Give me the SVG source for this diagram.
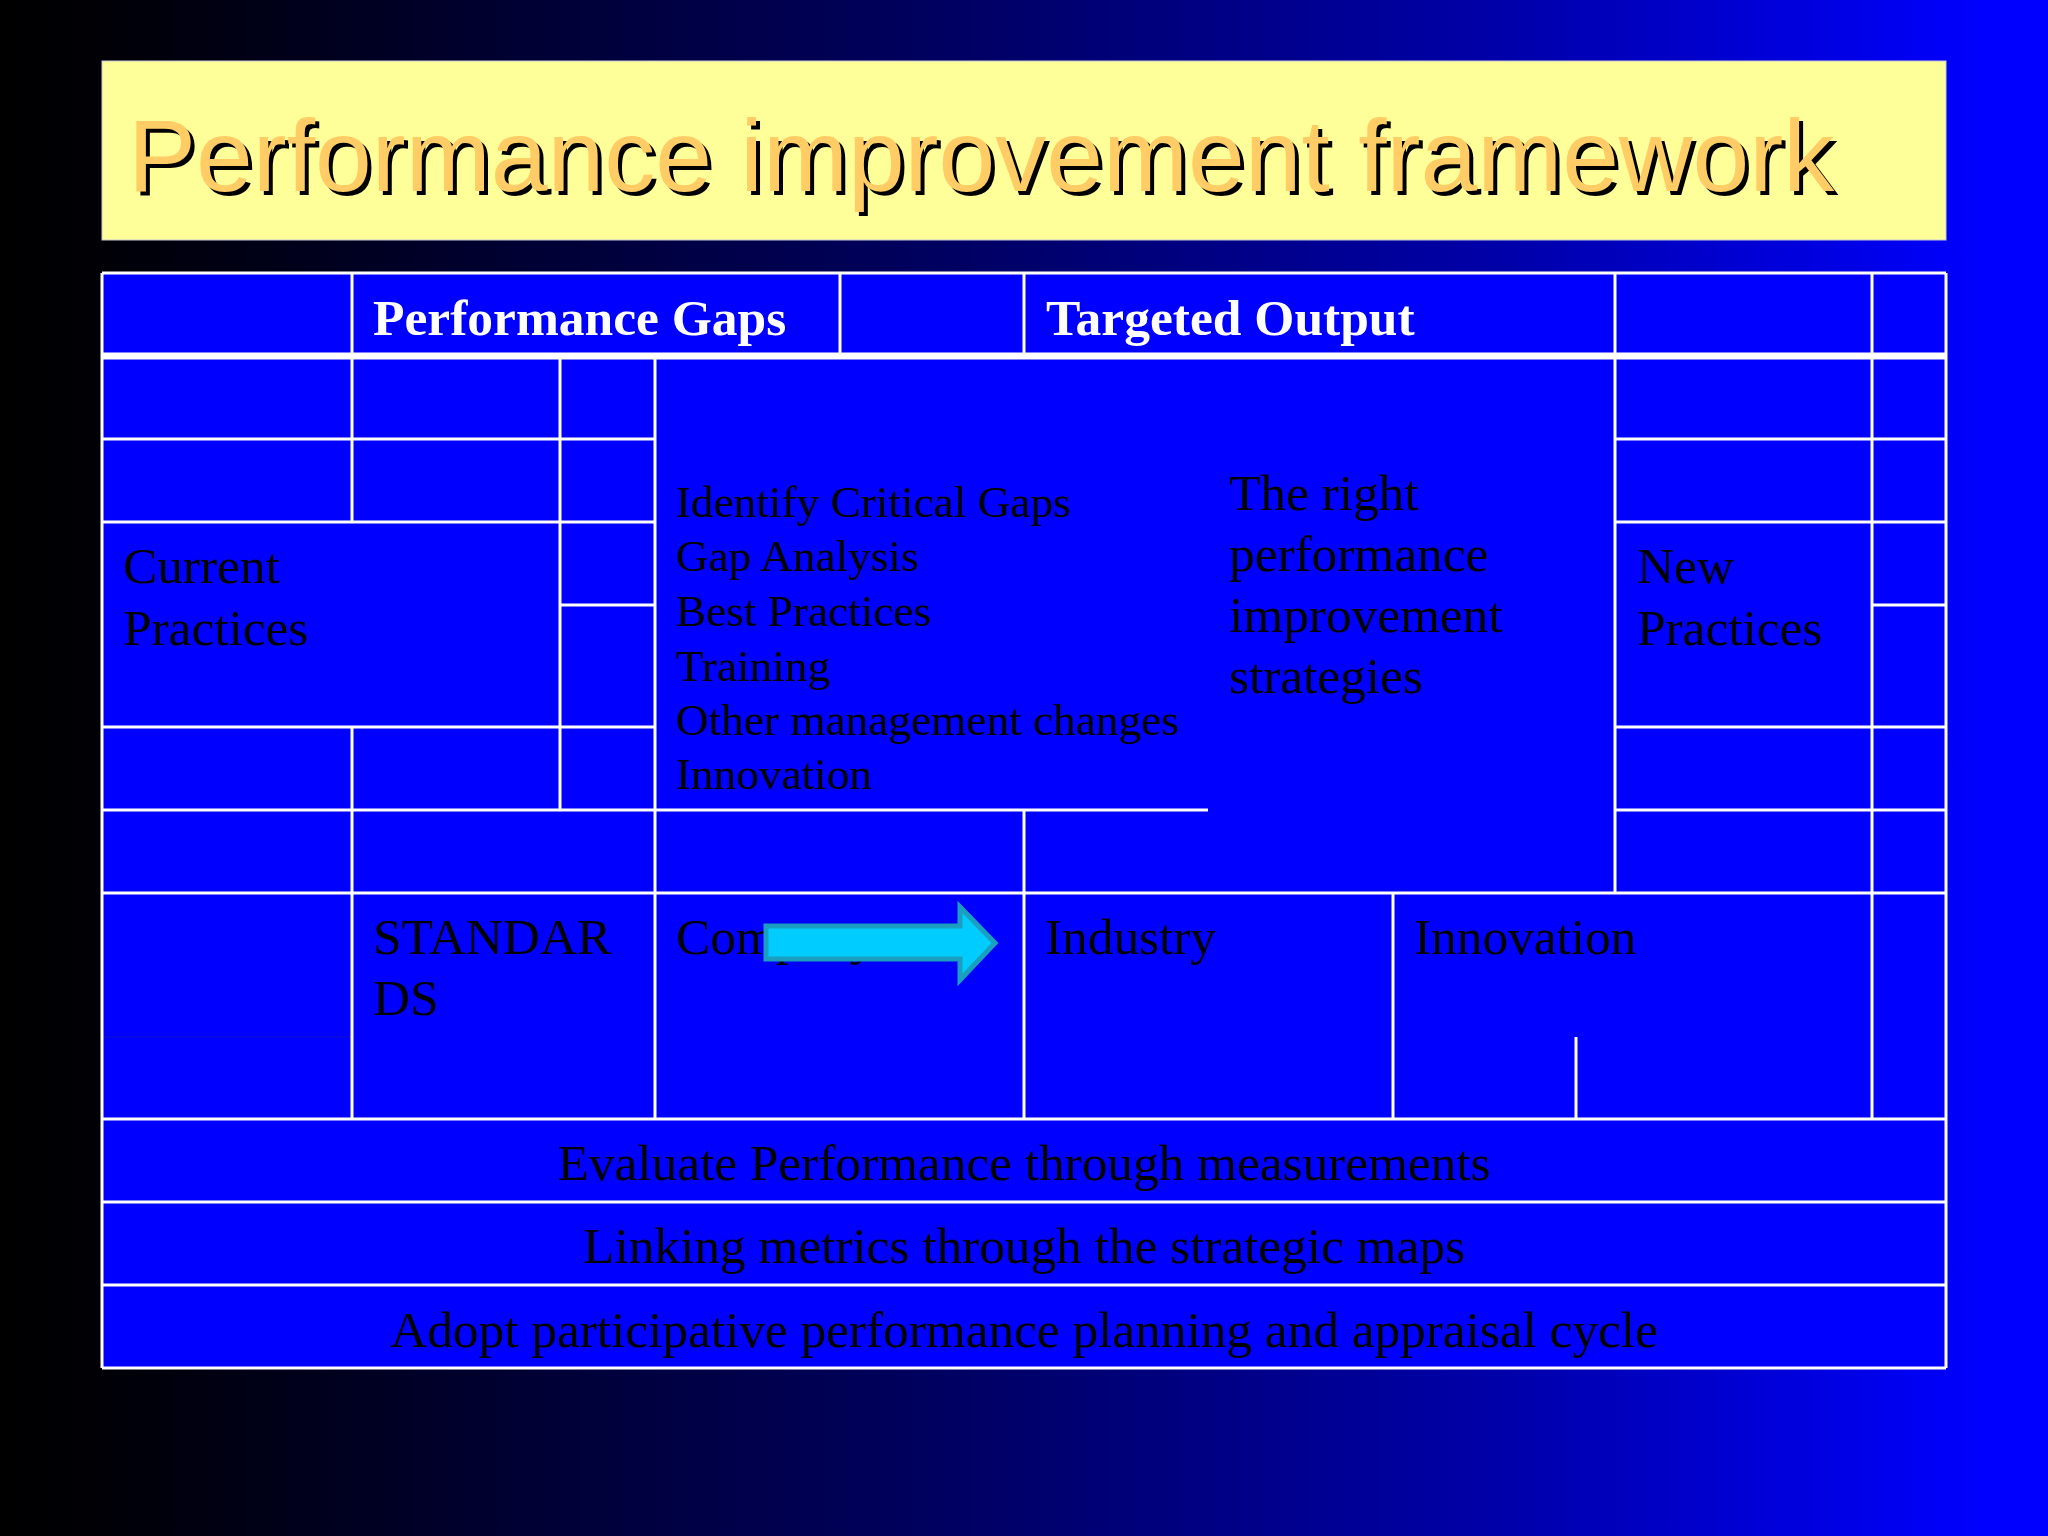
<svg xmlns="http://www.w3.org/2000/svg" width="2048" height="1536" viewBox="0 0 2048 1536">
  <defs>
    <linearGradient id="bg" x1="0" y1="0" x2="1" y2="0">
      <stop offset="0" stop-color="#000000"/>
      <stop offset="0.05" stop-color="#000006"/>
      <stop offset="0.45" stop-color="#00005E"/>
      <stop offset="0.75" stop-color="#0000AE"/>
      <stop offset="0.97" stop-color="#0000FF"/>
      <stop offset="1" stop-color="#0000FF"/>
    </linearGradient>
    <style>
      .grid line { stroke: #FFFFFF; stroke-width: 3; }
      .thick { stroke-width: 7 !important; }
      .cell { font-family: "Liberation Serif", "Times New Roman", serif; fill: #000000; font-size: 51.3px; }
      .list { font-size: 45.3px; }
      .head { font-family: "Liberation Serif", "Times New Roman", serif; fill: #FFFFFF; font-weight: bold; font-size: 51.5px; }
      .title { font-family: "Liberation Sans", Arial, sans-serif; font-size: 102px; }
      .mid { text-anchor: middle; }
    </style>
  </defs>

  <rect x="0" y="0" width="2048" height="1536" fill="url(#bg)"/>

  <g id="title">
    <rect x="102" y="61" width="1844" height="179" fill="#FFFF99" stroke="#C8C8D8" stroke-width="1"/>
    <text class="title" x="132" y="195" fill="#000000">Performance improvement framework</text>
    <text class="title" x="128" y="191" fill="#FFCC66">Performance improvement framework</text>
  </g>

  <g id="table-bg">
    <rect x="102" y="273" width="1844" height="1095" fill="#0000FF"/>
  </g>

  <g id="grid" class="grid">
    <line x1="102" y1="1037" x2="352" y2="1037" style="stroke:#0808E4;stroke-width:2"/>
    <!-- horizontals -->
    <line class="thick" x1="102" y1="356" x2="1946" y2="356"/>
    <line x1="102" y1="439" x2="655" y2="439"/>
    <line x1="1615" y1="439" x2="1946" y2="439"/>
    <line x1="102" y1="522" x2="655" y2="522"/>
    <line x1="1615" y1="522" x2="1946" y2="522"/>
    <line x1="560" y1="605" x2="655" y2="605"/>
    <line x1="1872" y1="605" x2="1946" y2="605"/>
    <line x1="102" y1="727" x2="655" y2="727"/>
    <line x1="1615" y1="727" x2="1946" y2="727"/>
    <line x1="102" y1="810" x2="1208" y2="810"/>
    <line x1="1615" y1="810" x2="1946" y2="810"/>
    <line x1="102" y1="893" x2="1946" y2="893"/>
    <line x1="102" y1="1119" x2="1946" y2="1119"/>
    <line x1="102" y1="1202" x2="1946" y2="1202"/>
    <line x1="102" y1="1285" x2="1946" y2="1285"/>
    <!-- verticals -->
    <line x1="352" y1="273" x2="352" y2="522"/>
    <line x1="352" y1="727" x2="352" y2="1119"/>
    <line x1="560" y1="356" x2="560" y2="810"/>
    <line x1="655" y1="356" x2="655" y2="1119"/>
    <line x1="840" y1="273" x2="840" y2="356"/>
    <line x1="1024" y1="273" x2="1024" y2="356"/>
    <line x1="1024" y1="810" x2="1024" y2="1119"/>
    <line x1="1393" y1="893" x2="1393" y2="1119"/>
    <line x1="1576" y1="1037" x2="1576" y2="1119"/>
    <line x1="1615" y1="273" x2="1615" y2="893"/>
    <line x1="1872" y1="273" x2="1872" y2="1119"/>
    <!-- outer border -->
    <line x1="102" y1="273" x2="1946" y2="273"/>
    <line x1="102" y1="1368" x2="1946" y2="1368"/>
    <line x1="102" y1="273" x2="102" y2="1368"/>
    <line x1="1946" y1="273" x2="1946" y2="1368"/>
  </g>

  <g id="performance-gaps">
    <text class="head" x="373" y="335">Performance Gaps</text>
  </g>
  <g id="targeted-output">
    <text class="head" x="1046" y="335">Targeted Output</text>
  </g>

  <g id="current-practices">
    <text class="cell" x="123" y="583">Current</text>
    <text class="cell" x="123" y="645">Practices</text>
  </g>

  <g id="gap-actions">
    <text class="cell list" x="676" y="517">Identify Critical Gaps</text>
    <text class="cell list" x="676" y="571">Gap Analysis</text>
    <text class="cell list" x="676" y="626">Best Practices</text>
    <text class="cell list" x="676" y="681">Training</text>
    <text class="cell list" x="676" y="735">Other management changes</text>
    <text class="cell list" x="676" y="789">Innovation</text>
  </g>

  <g id="strategies">
    <text class="cell" x="1229" y="510">The right</text>
    <text class="cell" x="1229" y="571">performance</text>
    <text class="cell" x="1229" y="632">improvement</text>
    <text class="cell" x="1229" y="693">strategies</text>
  </g>

  <g id="new-practices">
    <text class="cell" x="1637" y="583">New</text>
    <text class="cell" x="1637" y="645">Practices</text>
  </g>

  <g id="standards">
    <text class="cell" x="373" y="954">STANDAR</text>
    <text class="cell" x="373" y="1015">DS</text>
  </g>

  <g id="company">
    <text class="cell" x="676" y="954">Company</text>
  </g>

  <g id="industry">
    <text class="cell" x="1045" y="954">Industry</text>
  </g>

  <g id="innovation">
    <text class="cell" x="1414" y="954">Innovation</text>
  </g>

  <g id="evaluate">
    <text class="cell mid" x="1024" y="1180">Evaluate Performance through measurements</text>
  </g>
  <g id="linking">
    <text class="cell mid" x="1024" y="1263">Linking metrics through the strategic maps</text>
  </g>
  <g id="adopt">
    <text class="cell mid" x="1024" y="1347">Adopt participative performance planning and appraisal cycle</text>
  </g>

  <g id="connectors">
    <polygon id="arrow" points="766,926 960,926 960,907 995,943 960,980 960,959 766,959" fill="#00CCFF" stroke="#1AA0BE" stroke-width="5" stroke-linejoin="miter"/>
  </g>
</svg>
